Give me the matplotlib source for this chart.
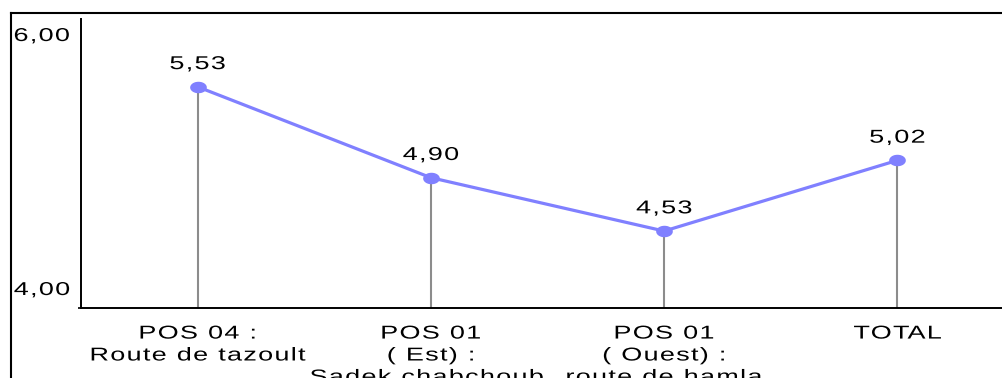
import numpy as np
import matplotlib
matplotlib.use("Agg")
import matplotlib.pyplot as plt
from matplotlib.path import Path
from matplotlib.patheffects import AbstractPathEffect
from matplotlib.lines import Line2D

# ---- data ----
categories = ["POS 04 :\nRoute de tazoult",
              "POS 01\n( Est) :\nSadek chabchoub,",
              "POS 01\n( Ouest) :\nroute de hamla",
              "TOTAL"]
values = [5.53, 4.90, 4.53, 5.02]
value_labels = ["5,53", "4,90", "4,53", "5,02"]
y_ticks = [4.0, 6.0]
y_tick_labels = ["4,00", "6,00"]

plt.rcParams["font.family"] = ["Liberation Sans", "DejaVu Sans"]
plt.rcParams["font.size"] = 13.4


class WideText(AbstractPathEffect):
    """Draw text horizontally widened with a little extra glyph spacing
    (the text stays a real Text object)."""

    def __init__(self, stretch=1.45, gap=0.07, ha="center", word_gap=0.2):
        super().__init__()
        self.stretch = stretch
        self.gap = gap * 100.0
        self.word_gap = word_gap * 100.0
        self.ha = ha

    def draw_path(self, renderer, gc, tpath, affine, rgbFace=None):
        verts = np.asarray(tpath.vertices, float)
        codes = tpath.codes
        if codes is None or len(verts) == 0:
            renderer.draw_path(gc, tpath, affine, rgbFace)
            return
        codes = np.asarray(codes)
        starts = list(np.nonzero(codes == Path.MOVETO)[0])
        if not starts:
            renderer.draw_path(gc, tpath, affine, rgbFace)
            return
        bounds = starts + [len(verts)]
        subs = []
        for a, b in zip(bounds[:-1], bounds[1:]):
            m = (codes[a:b] != Path.CLOSEPOLY) & (codes[a:b] != Path.STOP)
            xs = verts[a:b, 0][m]
            if len(xs) == 0:
                continue
            subs.append((xs.min(), xs.max(), a, b))
        if not subs:
            renderer.draw_path(gc, tpath, affine, rgbFace)
            return
        subs.sort(key=lambda s: s[0])
        clusters = []
        for s in subs:
            if clusters and s[0] < clusters[-1][1]:
                clusters[-1][1] = max(clusters[-1][1], s[1])
                clusters[-1][2].append(s)
            else:
                clusters.append([s[0], s[1], [s]])
        xmin = clusters[0][0]
        xmax = max(c[1] for c in clusters)
        new = verts.copy()
        new[:, 0] = xmin + (verts[:, 0] - xmin) * self.stretch
        shift = 0.0
        prev = None
        for c in clusters:
            if prev is not None:
                shift += self.gap
                if c[0] - prev > self.word_gap:
                    shift += self.gap
            for (_, _, a, b) in c[2]:
                new[a:b, 0] += shift
            prev = c[1]
        new_w = (xmax - xmin) * self.stretch + shift
        old_w = xmax - xmin
        if self.ha == "center":
            new[:, 0] -= (new_w - old_w) / 2.0
        elif self.ha == "right":
            new[:, 0] -= (new_w - old_w)
        renderer.draw_path(gc, Path(new, codes), affine, rgbFace)


W, H = 1003, 378
fig = plt.figure(figsize=(W / 100, H / 100), dpi=100)
fig.patch.set_facecolor("white")

y_top, y_bot = 19, 307.5
ax = fig.add_axes([81 / W, 1 - y_bot / H, 933 / W, (y_bot - y_top) / H])

x = np.arange(len(values))
ax.set_xlim(-0.5, 3.5)
ax.set_ylim(4.0, 6.0)

ax.vlines(x, 4.0, values, color="#8c8c8c", lw=1.5, zorder=2)

t = np.linspace(0, 2 * np.pi, 40)
ellipse = np.column_stack([np.cos(t), 0.66 * np.sin(t)])
ax.plot(x, values, color="#8080ff", lw=2.3, marker=ellipse, ms=11,
        mfc="#8080ff", mec="#8080ff", zorder=3, solid_capstyle="round")

for xi, v, lab in zip(x, values, value_labels):
    ax.annotate(lab, xy=(xi, v), xytext=(0, 17.7), textcoords="offset pixels",
                ha="center", va="baseline", color="black",
                path_effects=[WideText(ha="center")])

# y tick labels
offsets = {6.0: -22, 4.0: 12.5}
for yv, lab in zip(y_ticks, y_tick_labels):
    ax.annotate(lab, xy=(0, yv), xycoords=("axes fraction", "data"),
                xytext=(-11, offsets[yv]), textcoords="offset pixels",
                ha="right", va="baseline", color="black",
                path_effects=[WideText(ha="right")])

ax.set_yticks([])
ax.set_yticks([4.0], minor=True)
ax.tick_params(axis="y", which="minor", length=2.2, width=1.2, color="black")

ax.set_xticks(x)
ax.set_xticklabels(categories, linespacing=1.38)
ax.tick_params(axis="x", length=0, pad=13.0)
for lab in ax.get_xticklabels():
    lab.set_path_effects([WideText(ha="center")])

for s in ["top", "right"]:
    ax.spines[s].set_visible(False)
for s in ["left", "bottom"]:
    ax.spines[s].set_linewidth(1.4)
    ax.spines[s].set_color("black")
ax.set_facecolor("none")

# outer frame (top and left)
fy = 1 - 13.3 / H
fx = 11 / W
fig.add_artist(Line2D([fx, 1.0], [fy, fy], transform=fig.transFigure,
                      color="black", lw=1.5))
fig.add_artist(Line2D([fx, fx], [0, fy], transform=fig.transFigure,
                      color="black", lw=1.5))

fig.savefig("out.png", dpi=100)
